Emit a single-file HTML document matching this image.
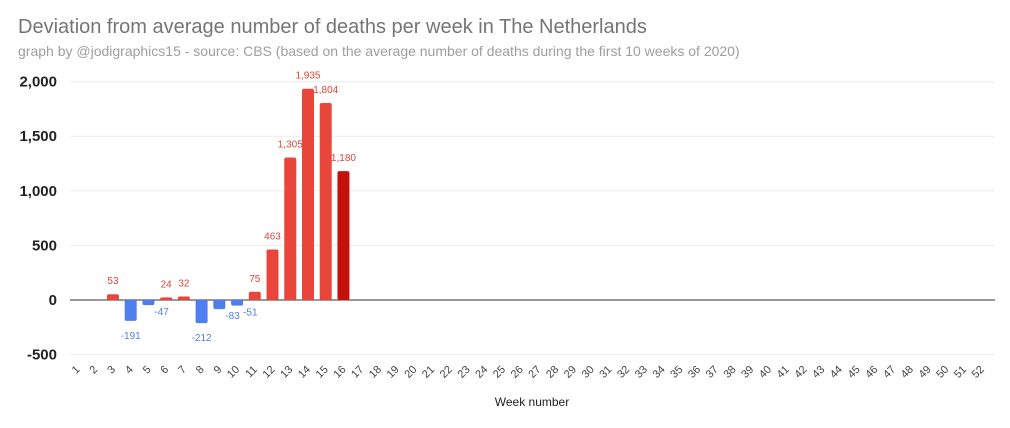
<!DOCTYPE html>
<html><head><meta charset="utf-8"><style>
body{margin:0;background:#fff;font-family:"Liberation Sans",Arial,sans-serif}
</style></head><body>
<svg width="1010" height="423" xmlns="http://www.w3.org/2000/svg" font-family="Liberation Sans, Arial, sans-serif">
<text x="18" y="33" font-size="20" fill="#757575">Deviation from average number of deaths per week in The Netherlands</text>
<text x="18" y="56" font-size="14" fill="#9e9e9e">graph by @jodigraphics15 - source: CBS (based on the average number of deaths during the first 10 weeks of 2020)</text>
<g id="grid"></g><g id="bars"></g><g id="xl"></g>
<text x="532" y="406" font-size="12" fill="#222" text-anchor="middle">Week number</text>
</svg>
<script>
const weeks=Array.from({length:52},(_,i)=>i+1);
const values=[null,null,53,-191,-47,24,32,-212,-83,-51,75,463,1305,1935,1804,1180];
const yTicks=[2000,1500,1000,500,0,-500];
const yTickLabels=["2,000","1,500","1,000","500","0","-500"];
const valueLabels=[null,null,"53","-191","-47","24","32","-212","-83","-51","75","463","1,305","1,935","1,804","1,180"];
const NS="http://www.w3.org/2000/svg";
const y=v=>300-v*0.1092;
const x=w=>77.5+(w-1)*17.73;
function mk(t,a,p){const e=document.createElementNS(NS,t);for(const k in a)e.setAttribute(k,a[k]);p.appendChild(e);return e;}
const grid=document.getElementById('grid'),bars=document.getElementById('bars'),xl=document.getElementById('xl');
yTicks.forEach((v,i)=>{
  const l=mk('line',{x1:70,x2:995,y1:y(v),y2:y(v),stroke:v===0?'#333':'#ebebeb','stroke-width':1},grid);
  
  
  const t=mk('text',{x:57,y:y(v)+5,'font-size':15,'font-weight':'bold','text-anchor':'end',fill:'#222'},grid);
  t.textContent=yTickLabels[i];
  
  
});
values.forEach((v,i)=>{
  if(v===null)return;
  const w=i+1,cx=x(w);
  const col=w===16?'#c5110d':(v<0?'#4f7fee':'#e8463a');
  const top=Math.min(y(v),300),h=Math.abs(y(v)-300);
  const r=mk('rect',{x:cx-6,y:top,width:12,height:Math.max(h,1),rx:2,fill:col},bars);
  
  
  const t=mk('text',{x:cx,y:v<0?y(v)+18:y(v)-10,'font-size':10,'text-anchor':'middle',fill:v<0?'#4f7fee':'#d9473b'},bars);
  if(v<0&&h<15){t.setAttribute('x',cx+6);t.setAttribute('text-anchor','start');t.setAttribute('y',y(v)+10);}
  t.textContent=valueLabels[i];
  
  
});
weeks.forEach(w=>{
  const cx=x(w)+3,cy=370;
  const t=mk('text',{x:cx,y:cy,'font-size':11,'text-anchor':'end',fill:'#444',transform:`rotate(-45 ${cx} ${cy})`},xl);
  t.textContent=w;
  
  
});
</script>
</body></html>
